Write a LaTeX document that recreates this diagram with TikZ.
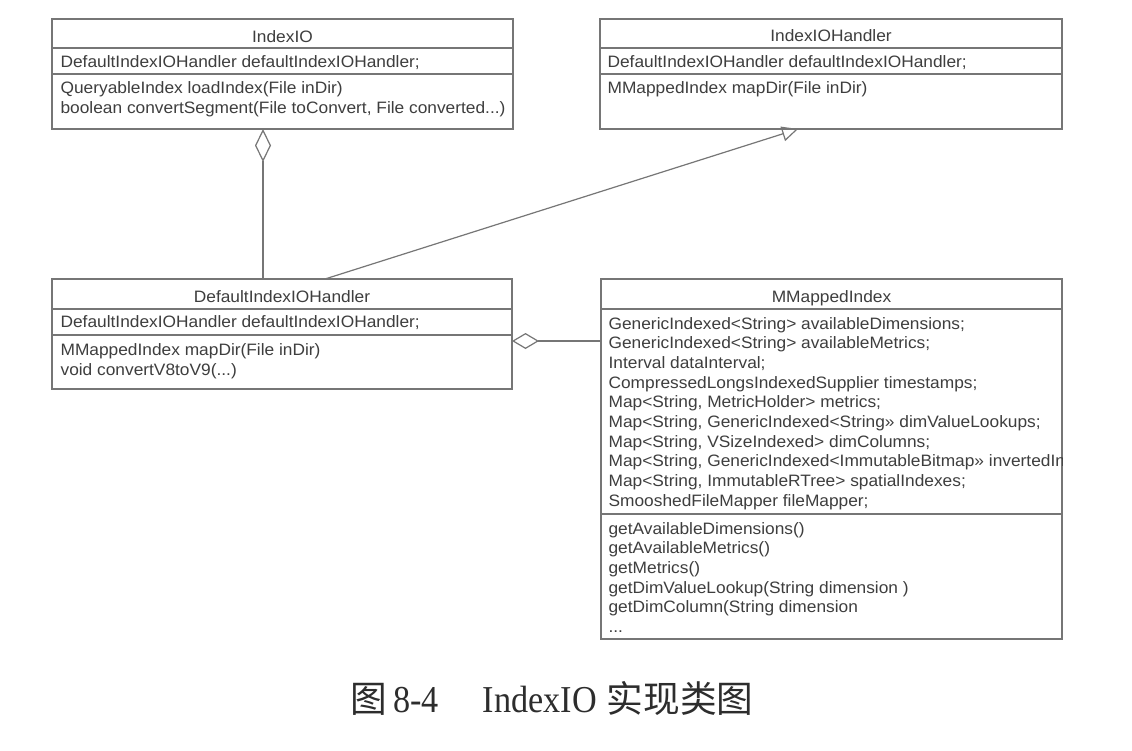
\documentclass[tikz,border=0pt]{standalone}
\usepackage{fontspec}
\setmainfont{Liberation Sans}[FakeStretch=1.05]
\newfontfamily\capserif{Liberation Serif}[FakeStretch=0.9]
\newfontfamily\cjk{Noto Sans CJK SC}
\usetikzlibrary{arrows.meta}
\definecolor{umlline}{RGB}{118,118,118}
\definecolor{umltext}{RGB}{62,62,62}
\definecolor{captext}{RGB}{45,45,45}

\begin{document}
\begin{tikzpicture}[x=1pt, y=-1pt, line width=1.2pt,
  classbox/.style={draw=umlline, fill=white, inner sep=0pt, outer sep=0pt},
  rule/.style={draw=umlline},
  member/.style={text=umltext, font=\fontsize{16.5}{19.8}\selectfont, inner sep=0pt, anchor=base west},
  classname/.style={member, anchor=base},
  aggr/.style={draw=umlline, {Diamond[open, length=#1, width=16pt]}-},
  aggr/.default=33pt,
  gen/.style={draw=umlline, -{Triangle[open, length=16pt, width=15pt]}}]
  \useasboundingbox[fill=white] (0,0) rectangle (1132,750);

  % IndexIO
  \node[classbox, minimum width=461pt, minimum height=110pt] (indexIO) at (282.5,74) {};
  \draw[rule] (52,48) -- (513,48);
  \draw[rule] (52,74) -- (513,74);
  \node[classname] (indexIOName) at (282.5,42.5) {IndexIO};
  \node[member] (indexIOAttr) at (60,67) {DefaultIndexIOHandler defaultIndexIOHandler;};
  \node[member] (indexIOOpA) at (60,93) {QueryableIndex loadIndex(File inDir)};
  \node[member] (indexIOOpB) at (60,113) {boolean convertSegment(File toConvert, File converted...)};

  % IndexIOHandler
  \node[classbox, minimum width=462pt, minimum height=110pt] (ioh) at (831,74) {};
  \draw[rule] (600,48) -- (1062,48);
  \draw[rule] (600,74) -- (1062,74);
  \node[classname] (iohName) at (831,41.5) {IndexIOHandler};
  \node[member] (iohAttr) at (607,67) {DefaultIndexIOHandler defaultIndexIOHandler;};
  \node[member] (iohOp) at (607,93) {MMappedIndex mapDir(File inDir)};

  % DefaultIndexIOHandler
  \node[classbox, minimum width=460pt, minimum height=110pt] (dih) at (282,334) {};
  \draw[rule] (52,309) -- (512,309);
  \draw[rule] (52,335) -- (512,335);
  \node[classname] (dihName) at (282,302.5) {DefaultIndexIOHandler};
  \node[member] (dihAttr) at (60,327) {DefaultIndexIOHandler defaultIndexIOHandler;};
  \node[member] (dihOpA) at (60,355) {MMappedIndex mapDir(File inDir)};
  \node[member] (dihOpB) at (60,375) {void convertV8toV9(...)};

  % MMappedIndex
  \node[classbox, minimum width=461pt, minimum height=360pt] (mm) at (831.5,459) {};
  \draw[rule] (601,309) -- (1062,309);
  \draw[rule] (601,514) -- (1062,514);
  \node[classname] (mmName) at (831.5,302) {MMappedIndex};
  \node[member] (mmAttrA) at (608,329) {GenericIndexed<String> availableDimensions;};
  \node[member] (mmAttrB) at (608,348.7) {GenericIndexed<String> availableMetrics;};
  \node[member] (mmAttrC) at (608,368.4) {Interval dataInterval;};
  \node[member] (mmAttrD) at (608,388.1) {CompressedLongsIndexedSupplier timestamps;};
  \node[member] (mmAttrE) at (608,407.8) {Map<String, MetricHolder> metrics;};
  \node[member] (mmAttrF) at (608,427.5) {Map<String, GenericIndexed<String>> dimValueLookups;};
  \node[member] (mmAttrG) at (608,447.2) {Map<String, VSizeIndexed> dimColumns;};
  \begin{scope}
    \clip (mm.north west) rectangle (mm.south east);
    \node[member] (mmAttrH) at (608,466.9) {Map<String, GenericIndexed<ImmutableBitmap>> invertedIndexes;};
  \end{scope}
  \node[member] (mmAttrI) at (608,486.6) {Map<String, ImmutableRTree> spatialIndexes;};
  \node[member] (mmAttrJ) at (608,506.3) {SmooshedFileMapper fileMapper;};
  \node[member] (mmOpA) at (608,534) {getAvailableDimensions()};
  \node[member] (mmOpB) at (608,553.7) {getAvailableMetrics()};
  \node[member] (mmOpC) at (608,573.4) {getMetrics()};
  \node[member] (mmOpD) at (608,593.1) {getDimValueLookup(String dimension )};
  \node[member] (mmOpE) at (608,612.8) {getDimColumn(String dimension};
  \node[member] (mmOpF) at (608,632.5) {...};

  % relations
  \draw[aggr] ([xshift=-19.5pt]indexIO.south) -- ([xshift=-19.5pt]indexIO.south |- dih.north);
  \draw[gen] ([xshift=43pt]dih.north) -- ([xshift=-33pt]ioh.south);
  \draw[aggr=27pt] ([yshift=-7pt]dih.east) -- ([yshift=-7pt]dih.east -| mm.west);

  % caption
  \node[anchor=base west, inner sep=0pt, text=captext] (caption) at (350,712)
    {{\cjk\fontsize{36.7}{40}\selectfont 图}\hspace{6pt}{\capserif\fontsize{38}{42}\selectfont 8-4\hspace{44pt}IndexIO}\hspace{10pt}{\cjk\fontsize{36.7}{40}\selectfont 实现类图}};
\end{tikzpicture}
\end{document}
